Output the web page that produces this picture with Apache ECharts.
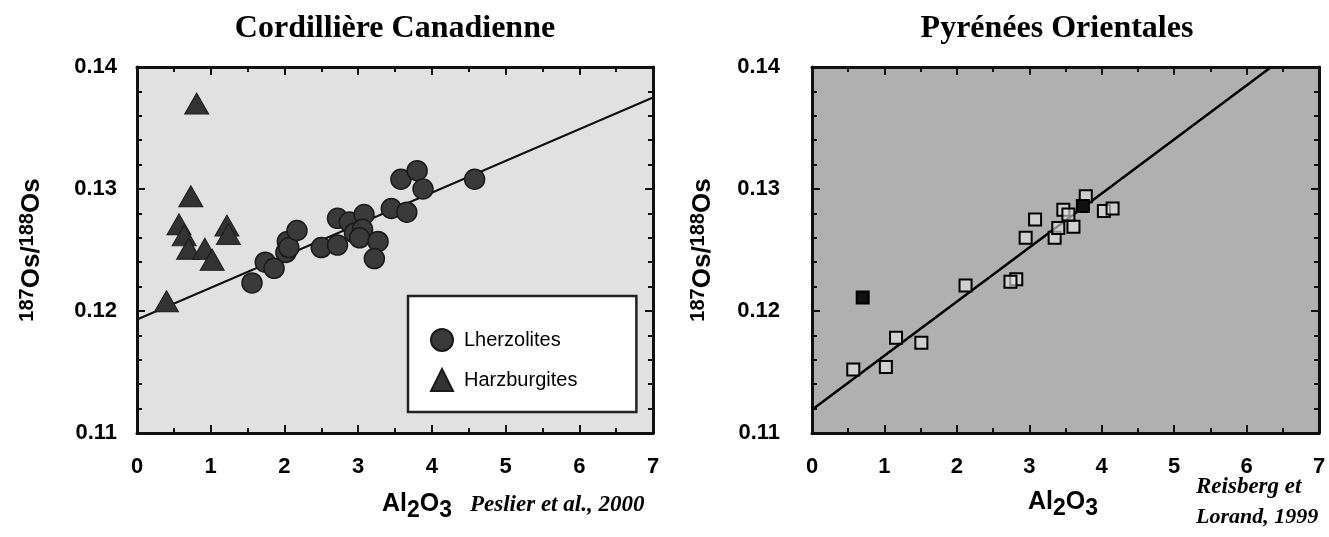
<!DOCTYPE html>
<html><head><meta charset="utf-8">
<script src="https://cdn.jsdelivr.net/npm/echarts@6/dist/echarts.min.js"></script>
<style>html,body{margin:0;padding:0;background:#fff}#c{width:1329px;height:537px}</style>
</head><body><div id="c"></div>
<script>
// ---- data ----
const titles = ['Cordillière Canadienne', 'Pyrénées Orientales'];
const xTicks = [0, 1, 2, 3, 4, 5, 6, 7];
const yTicks = [0.11, 0.12, 0.13, 0.14];
const lherzolites = [
  [1.56,0.1223],[1.74,0.1240],[1.86,0.1235],[2.02,0.1248],[2.04,0.1257],[2.06,0.1252],[2.17,0.1266],
  [2.50,0.1252],[2.72,0.1254],[2.72,0.1276],[2.88,0.1273],[2.95,0.1264],[3.08,0.1279],[3.06,0.1267],
  [3.02,0.1260],[3.27,0.1257],[3.22,0.1243],[3.45,0.1284],[3.66,0.1281],[3.58,0.1308],[3.80,0.1315],
  [3.88,0.1300],[4.58,0.1308]
];
const harzburgites = [
  [0.81,0.1370],[0.73,0.1294],[0.57,0.1271],[0.64,0.1262],[0.70,0.1251],[0.92,0.1251],[1.02,0.1242],
  [1.22,0.1270],[1.24,0.1263],[0.40,0.1208]
];
const trendLeft = [[0,0.1193],[7,0.1375]];
const pyreneesOpen = [
  [0.57,0.1152],[1.02,0.1154],[1.16,0.1178],[1.51,0.1174],[2.12,0.1221],[2.82,0.1226],[2.74,0.1224],
  [2.95,0.1260],[3.08,0.1275],[3.35,0.1260],[3.40,0.1268],[3.61,0.1269],[3.47,0.1283],[3.54,0.1279],
  [3.78,0.1294],[4.03,0.1282],[4.15,0.1284]
];
const pyreneesFilled = [[0.70,0.1211],[3.74,0.1286]];
const trendRight = [[0,0.1119],[6.34,0.14]];
const legendNames = ['Lherzolites', 'Harzburgites'];
const xName = '{a|Al}{s|2}{a|O}{s|3}';
const yName = '{s|187}{b|Os/}{s|188}{b|Os}';
const refs = ['Peslier et al., 2000', 'Reisberg et', 'Lorand, 1999'];

// ---- chart ----
const SANS = '"Liberation Sans", Arial, sans-serif';
const SERIF = '"Liberation Serif", "Times New Roman", serif';
const chart = echarts.init(document.getElementById('c'), null, {renderer: 'canvas'});

const grids = [
  {left: 137, top: 67, width: 516, height: 366, show: true, backgroundColor: '#e1e1e1', borderWidth: 0},
  {left: 812, top: 67, width: 507, height: 366, show: true, backgroundColor: '#b0b0b0', borderWidth: 0}
];
const axLine = {show: true, onZero: false, lineStyle: {color: '#111', width: 3}};
function xAx(g, pos, labels) {
  return {
    type: 'value', gridIndex: g, position: pos, min: xTicks[0], max: xTicks[xTicks.length - 1], interval: 1,
    axisLine: axLine, splitLine: {show: false},
    axisTick: {show: true, inside: true, length: 8, lineStyle: {color: '#111', width: 2}},
    minorTick: {show: true, splitNumber: 2, length: 5, lineStyle: {color: '#111', width: 2}},
    axisLabel: {show: labels, margin: 23, fontFamily: SANS, fontWeight: 'bold', fontSize: 22, color: '#000'}
  };
}
function yAx(g, pos, labels, gap, margin) {
  const o = {
    type: 'value', gridIndex: g, position: pos, min: yTicks[0], max: yTicks[yTicks.length - 1], interval: 0.01,
    axisLine: axLine, splitLine: {show: false},
    axisTick: {show: true, inside: true, length: 8, lineStyle: {color: '#111', width: 2}},
    minorTick: {show: true, splitNumber: 5, length: 5, lineStyle: {color: '#111', width: 2}},
    axisLabel: {show: labels, margin: margin, fontFamily: SANS, fontWeight: 'bold', fontSize: 22, color: '#000',
      formatter: v => v.toFixed(2)}
  };
  if (labels) {
    o.name = yName; o.nameLocation = 'middle'; o.nameGap = gap; o.nameRotate = 90;
    o.nameTextStyle = {fontFamily: SANS, fontWeight: 'bold', color: '#000',
      rich: {
        s: {fontFamily: SANS, fontWeight: 'bold', fontSize: 20, lineHeight: 28, verticalAlign: 'top', color: '#000'},
        b: {fontFamily: SANS, fontWeight: 'bold', fontSize: 26, lineHeight: 28, verticalAlign: 'bottom', color: '#000'}
      }};
  }
  return o;
}
const richAl = {
  a: {fontFamily: SANS, fontWeight: 'bold', fontSize: 25, lineHeight: 30, verticalAlign: 'top', color: '#000'},
  s: {fontFamily: SANS, fontWeight: 'bold', fontSize: 23, lineHeight: 30, verticalAlign: 'bottom', color: '#000'}
};
const refStyle = {fontFamily: SERIF, fontWeight: 'bold', fontStyle: 'italic', fontSize: 23, color: '#000'};
const titleStyle = {fontFamily: SERIF, fontWeight: 'bold', fontSize: 32, color: '#000'};

chart.setOption({
  animation: false,
  backgroundColor: '#fff',
  title: [
    {text: titles[0], left: 395, top: 13, textAlign: 'center', padding: 0, textStyle: titleStyle},
    {text: titles[1], left: 1057, top: 13, textAlign: 'center', padding: 0, textStyle: titleStyle},
    {text: xName, left: 382, top: 492, padding: 0, textStyle: {rich: richAl}},
    {text: refs[0], left: 470, top: 494, padding: 0, textStyle: refStyle},
    {text: xName, left: 1028, top: 490, padding: 0, textStyle: {rich: richAl}},
    {text: refs[1], left: 1196, top: 476, padding: 0, textStyle: refStyle},
    {text: refs[2], left: 1196, top: 506, padding: 0, textStyle: Object.assign({}, refStyle, {fontSize: 22})}
  ],
  legend: {
    data: legendNames, orient: 'vertical', left: 408, top: 296,
    padding: [32, 59, 20, 22], itemGap: 16, itemWidth: 22, itemHeight: 22,
    backgroundColor: '#fff', borderColor: '#222', borderWidth: 2.5,
    textStyle: {fontFamily: SANS, fontSize: 20, color: '#000', padding: [0, 0, 0, 6]}
  },
  grid: grids,
  xAxis: [xAx(0, 'bottom', true), xAx(0, 'top', false), xAx(1, 'bottom', true), xAx(1, 'top', false)],
  yAxis: [yAx(0, 'left', true, 92, 20), yAx(0, 'right', false), yAx(1, 'left', true, 96, 32), yAx(1, 'right', false)],
  series: [
    {type: 'line', name: 'trendL', xAxisIndex: 0, yAxisIndex: 0, data: trendLeft, symbol: 'none',
      lineStyle: {color: '#111', width: 2}, z: 2, silent: true},
    {type: 'scatter', name: legendNames[0], xAxisIndex: 0, yAxisIndex: 0, data: lherzolites,
      symbol: 'circle', symbolSize: 20,
      itemStyle: {color: '#3a3a3a', borderColor: '#1a1a1a', borderWidth: 1.5, opacity: 1}, z: 3},
    {type: 'scatter', name: legendNames[1], xAxisIndex: 0, yAxisIndex: 0, data: harzburgites,
      symbol: 'triangle', symbolSize: [24, 21],
      itemStyle: {color: '#333', borderColor: '#1a1a1a', borderWidth: 1, opacity: 1}, z: 3},
    {type: 'line', name: 'trendR', xAxisIndex: 2, yAxisIndex: 2, data: trendRight, symbol: 'none',
      lineStyle: {color: '#000', width: 2.5}, z: 2, silent: true},
    {type: 'scatter', name: 'open', xAxisIndex: 2, yAxisIndex: 2, data: pyreneesOpen,
      symbol: 'rect', symbolSize: 12,
      itemStyle: {color: 'rgba(230,230,230,0.6)', borderColor: '#000', borderWidth: 2, opacity: 1}, z: 3},
    {type: 'scatter', name: 'filled', xAxisIndex: 2, yAxisIndex: 2, data: pyreneesFilled,
      symbol: 'rect', symbolSize: 12,
      itemStyle: {color: '#111', borderColor: '#000', borderWidth: 2, opacity: 1}, z: 4}
  ]
});
</script></body></html>
